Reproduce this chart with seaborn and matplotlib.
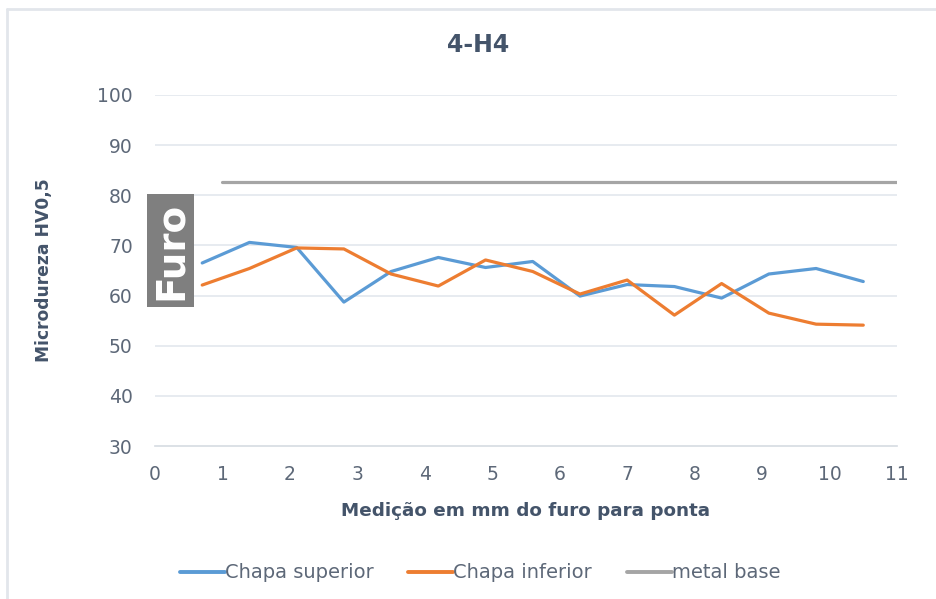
import matplotlib
matplotlib.use("Agg")
import matplotlib.pyplot as plt
from matplotlib.patches import Rectangle
from matplotlib.lines import Line2D
import pandas as pd
import seaborn as sns

# Measurement positions (mm from the hole towards the tip)
posicoes = [0.7, 1.4, 2.1, 2.8, 3.5, 4.2, 4.9, 5.6, 6.3, 7.0, 7.7, 8.4, 9.1, 9.8, 10.5]
chapa_superior = [66.5, 70.6, 69.6, 58.7, 64.8, 67.6, 65.6, 66.8, 59.9, 62.2, 61.8, 59.5, 64.3, 65.4, 62.8]
chapa_inferior = [62.1, 65.4, 69.5, 69.3, 64.3, 61.9, 67.1, 64.8, 60.3, 63.1, 56.1, 62.4, 56.5, 54.3, 54.1]
metal_base_x = [1, 11]
metal_base = [82.6, 82.6]

series_names = ["Chapa superior", "Chapa inferior", "metal base"]
series_colors = ["#5b9bd5", "#ed7d31", "#a5a5a5"]
x_ticks = list(range(0, 12))
y_ticks = list(range(30, 101, 10))

df = pd.concat([
    pd.DataFrame({"x": posicoes, "y": chapa_superior, "serie": series_names[0]}),
    pd.DataFrame({"x": posicoes, "y": chapa_inferior, "serie": series_names[1]}),
    pd.DataFrame({"x": metal_base_x, "y": metal_base, "serie": series_names[2]}),
], ignore_index=True)

sns.set_theme(style="white")
plt.rcParams["font.family"] = ["DejaVu Sans"]

text_dark = "#44546a"
tick_col = "#5d6878"
grid_col = "#e3e8ee"

fig = plt.figure(figsize=(9.36, 5.99), dpi=100)
fig.patch.set_facecolor("white")
ax = fig.add_axes([155 / 936, 1 - 446 / 599, 742 / 936, 351 / 599])

palette = dict(zip(series_names, series_colors))
sns.lineplot(data=df, x="x", y="y", hue="serie", palette=palette,
             estimator=None, sort=False, linewidth=2.3, ax=ax, legend=False,
             zorder=3)

ax.set_xlim(0, 11)
ax.set_ylim(30, 100)
ax.set_xticks(x_ticks)
ax.set_yticks(y_ticks)
ax.set_xticklabels([str(v) for v in x_ticks], fontsize=13.5, color=tick_col)
ax.set_yticklabels([str(v) for v in y_ticks], fontsize=13.5, color=tick_col)

for yv in y_ticks[1:]:
    ax.axhline(yv, color=grid_col, linewidth=1.2, zorder=1)

for side in ["top", "right", "left"]:
    ax.spines[side].set_visible(False)
ax.spines["bottom"].set_color("#d6dbe1")
ax.spines["bottom"].set_linewidth(1.2)
ax.tick_params(axis="x", length=4, width=1.2, color="#d6dbe1", direction="out", pad=10)
ax.tick_params(axis="y", length=0, pad=16)

ax.set_xlabel("Medição em mm do furo para ponta", fontsize=13.2, fontweight="bold",
              color=text_dark, labelpad=13)
ax.set_ylabel("Microdureza HV0,5", fontsize=12.3, fontweight="bold",
              color=text_dark)
ax.yaxis.set_label_coords(-0.137, 0.5)

fig.text(478 / 936, 1 - 45 / 599, "4-H4", ha="center", va="center",
         fontsize=17, fontweight="bold", color=text_dark)

# "Furo" marker box at the hole edge
box = Rectangle((-0.12, 57.7), 0.70, 22.55, facecolor="#7f7f7f", edgecolor="none",
                zorder=5, clip_on=False)
ax.add_patch(box)
ax.text(0.235, 68.95, "Furo", rotation=90, ha="center", va="center", color="white",
        fontsize=28, fontweight="heavy", zorder=6, clip_on=False)

# Legend
handles = [Line2D([0], [0], color=c, linewidth=2.8) for c in series_colors]
fig.legend(handles, series_names, loc="center", bbox_to_anchor=(480 / 936, 1 - 573 / 599),
           ncol=3, frameon=False, fontsize=14, handlelength=2.3, handletextpad=0.0,
           columnspacing=1.8, labelcolor=tick_col)

# Chart area border (left and top edges)
fx, fy = 7 / 936, 1 - 9 / 599
fig.add_artist(Line2D([fx, fx], [0, fy], transform=fig.transFigure,
                      color="#e2e6eb", linewidth=2))
fig.add_artist(Line2D([fx, 1], [fy, fy], transform=fig.transFigure,
                      color="#e2e6eb", linewidth=2))

fig.savefig("out.png", dpi=100, facecolor="white")
